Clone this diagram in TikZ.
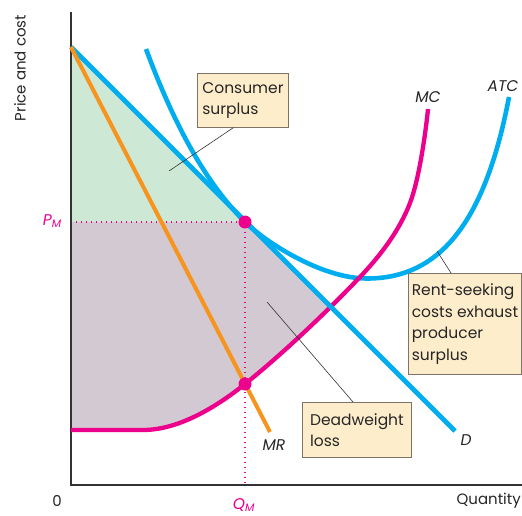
\documentclass[tikz,border=0pt]{standalone}
\usepackage{fontspec}
\setmainfont{Poppins}
\begin{document}
\begin{tikzpicture}[x=1pt,y=-1pt,
  lbl/.style={font=\fontsize{15.5}{18}\selectfont\itshape, text=black!85, inner sep=0pt},
  axlbl/.style={font=\fontsize{15}{18}\selectfont, text=black!85, inner sep=0pt},
  boxnote/.style={draw=boxbrd, fill=boxfill, line width=0.9pt, align=left, anchor=north west,
     font=\fontsize{15.5}{21.5}\selectfont, text=black!85, inner sep=0pt},
  leader/.style={draw=black!80, line width=0.6pt},
  pmdot/.style={circle, fill=mag, inner sep=0pt, minimum size=13pt},
  guide/.style={draw=mag, line width=1.4pt, dash pattern=on 1.4pt off 3.6pt},
  curve/.style={line width=4.6pt}
]
\definecolor{cyanD}{HTML}{00AEEF}
\definecolor{mag}{HTML}{EC008C}
\definecolor{orng}{HTML}{F7941D}
\definecolor{csgreen}{HTML}{CDE8D5}
\definecolor{dwl}{HTML}{D3C9D2}
\definecolor{boxfill}{HTML}{FEEDCB}
\definecolor{boxbrd}{HTML}{7D7467}
\useasboundingbox (0,0) rectangle (522,516);

% key coordinates
\coordinate (O) at (71,485);
\coordinate (ytop) at (71,12);
\coordinate (xend) at (522,485);
\coordinate (dstart) at (71,47);
\coordinate (dend) at (455,431);
\coordinate (mrend) at (270,432);
\coordinate (pm) at (71,222);
\coordinate (qm) at (245,485);
\coordinate (eq) at (245,222);
\coordinate (mcq) at (245,384);
\coordinate (mcflat) at (143,430);
\coordinate (mcmid) at (360,277);
\coordinate (mchi) at (410,203);
\coordinate (mctop) at (428,109);
\coordinate (mcstart) at (71,430);
\coordinate (atcstart) at (146,49);
\coordinate (atcmin) at (367,278.5);
\coordinate (atcend) at (509,97);

% areas
\fill[csgreen] (dstart) -- (eq) -- (pm) -- cycle;
\begin{scope}
  \clip (dstart) -- (620,597) -- (71,597) -- cycle;
  \fill[dwl] (mcstart) -- (mcflat) .. controls (178,430) and (215,408) .. (mcq)
     .. controls (280,356) and (325,313.75) .. (mcmid) -- (360,222) -- (pm) -- cycle;
\end{scope}

% guides
\draw[guide] (pm) -- (eq);
\draw[guide] (eq) -- (qm);

% axes
\draw[line width=1.3pt, black!80] (ytop) -- (O) -- (xend);

% ATC
\draw[curve, cyanD] (atcstart) .. controls (181,143.5) and (215,192) .. (eq)
   .. controls (263,240) and (320,278.5) .. (atcmin)
   .. controls (437,278.5) and (484.3,227) .. (atcend);
% MC
\draw[curve, mag, line width=4.3pt] (mcstart) -- (mcflat)
   .. controls (178,430) and (215,408) .. (mcq)
   .. controls (280,356) and (325,313.75) .. (mcmid)
   .. controls (377,259) and (398,234) .. (mchi)
   .. controls (419,179.6) and (425.5,134) .. (mctop);
% D
\draw[curve, cyanD] (dstart) -- (dend);
% MR
\draw[curve, orng, line width=4pt] (dstart) -- (mrend);

% points
\node[pmdot] (e1) at (eq) {};
\node[pmdot] (e2) at (mcq) {};

% labels
\node[lbl] (lmc) at (428,97) {MC};
\node[lbl] (latc) at (503,86) {ATC};
\node[lbl] (lmr) at (274,445) {MR};
\node[lbl] (ld) at (466,440) {D};
\node[lbl, text=mag, anchor=east] (lpm) at (62,221) {P\textsubscript{M}};
\node[lbl, text=mag] (lqm) at (244,505) {Q\textsubscript{M}};
\node[axlbl] (l0) at (57,501) {0};
\node[axlbl, anchor=east] (lq) at (521,501) {Quantity};
\node[axlbl, rotate=90] (lpc) at (20,68) {Price and cost};

% notes
\node[boxnote, minimum width=91pt, minimum height=54pt] (cs) at (197,73) {Consumer\\surplus};
\node[boxnote, minimum width=113pt, minimum height=101pt] (rs) at (408,273) {Rent-seeking\\costs exhaust\\producer\\surplus};
\node[boxnote, minimum width=109pt, minimum height=55pt] (dw) at (302,402) {Deadweight\\loss};

\coordinate (csp) at (169,171);
\coordinate (rsp) at (437,251);
\coordinate (dwp) at (267,302);
\draw[leader] (cs.south west) ++(36,0) coordinate (csa) -- (csp);
\draw[leader] (rs.north west) ++(43,0) coordinate (rsa) -- (rsp);
\draw[leader] (dw.north west) ++(51,0) coordinate (dwa) -- (dwp);
\end{tikzpicture}
\end{document}
